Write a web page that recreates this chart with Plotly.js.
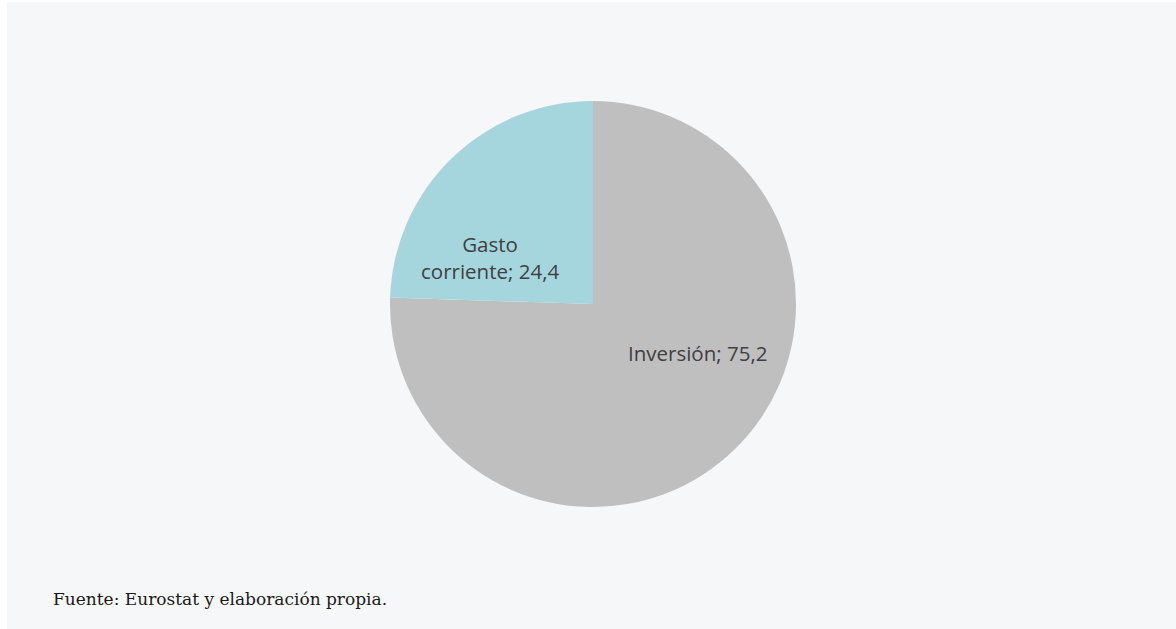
<!DOCTYPE html>
<html>
<head>
<meta charset="utf-8">
<script src="https://cdn.plot.ly/plotly-3.0.1.min.js"></script>
<style>
html,body{margin:0;padding:0;background:#ffffff;width:1176px;height:629px;overflow:hidden;}
#chart{position:absolute;left:7px;top:2px;width:1169px;height:627px;}
</style>
</head>
<body>
<div id="chart"></div>
<script>
const categories = ["Inversión", "Gasto corriente"];
const values = [75.2, 24.4];
const sliceColors = ["#BFBFBF", "#A5D6DD"];
const displayLabels = ["Inversión", "Gasto<br>corriente"];
const sourceNote = "Fuente: Eurostat y elaboración propia.";

const W = 1169, H = 627;
const cx = 586, cy = 302, r = 203;
// label anchor offsets (pixels from pie centre), placement only
const labelOffsets = [[104, 49], [-103, -47]];

const fmt = v => v.toFixed(1).replace(".", ",");

const trace = {
  type: "pie",
  labels: categories,
  values: values,
  sort: false,
  direction: "clockwise",
  rotation: 0,
  marker: {colors: sliceColors, line: {width: 0}},
  textinfo: "none",
  hoverinfo: "label+value",
  domain: {x: [(cx - r) / W, (cx + r) / W], y: [(H - cy - r) / H, (H - cy + r) / H]},
  showlegend: false
};

const annotations = categories.map((c, i) => ({
  text: displayLabels[i] + "; " + fmt(values[i]),
  xref: "paper", yref: "paper",
  x: (cx + labelOffsets[i][0]) / W,
  y: (H - cy - labelOffsets[i][1]) / H,
  xanchor: "center", yanchor: "middle",
  showarrow: false,
  align: "center",
  font: {family: "Open Sans, sans-serif", size: 20.5, color: "#404040"}
}));

annotations.push({
  text: sourceNote,
  xref: "paper", yref: "paper",
  x: 44 / W, y: 30 / H,
  xanchor: "left", yanchor: "middle",
  showarrow: false,
  font: {family: "DejaVu Serif, serif", size: 17, color: "#1a1a1a"}
});

const layout = {
  width: W, height: H,
  margin: {l: 0, r: 0, t: 0, b: 0},
  paper_bgcolor: "#F6F7F9",
  plot_bgcolor: "#F6F7F9",
  separators: ",.",
  showlegend: false,
  annotations: annotations
};

Plotly.newPlot("chart", [trace], layout, {displayModeBar: false, staticPlot: true});
</script>
</body>
</html>
